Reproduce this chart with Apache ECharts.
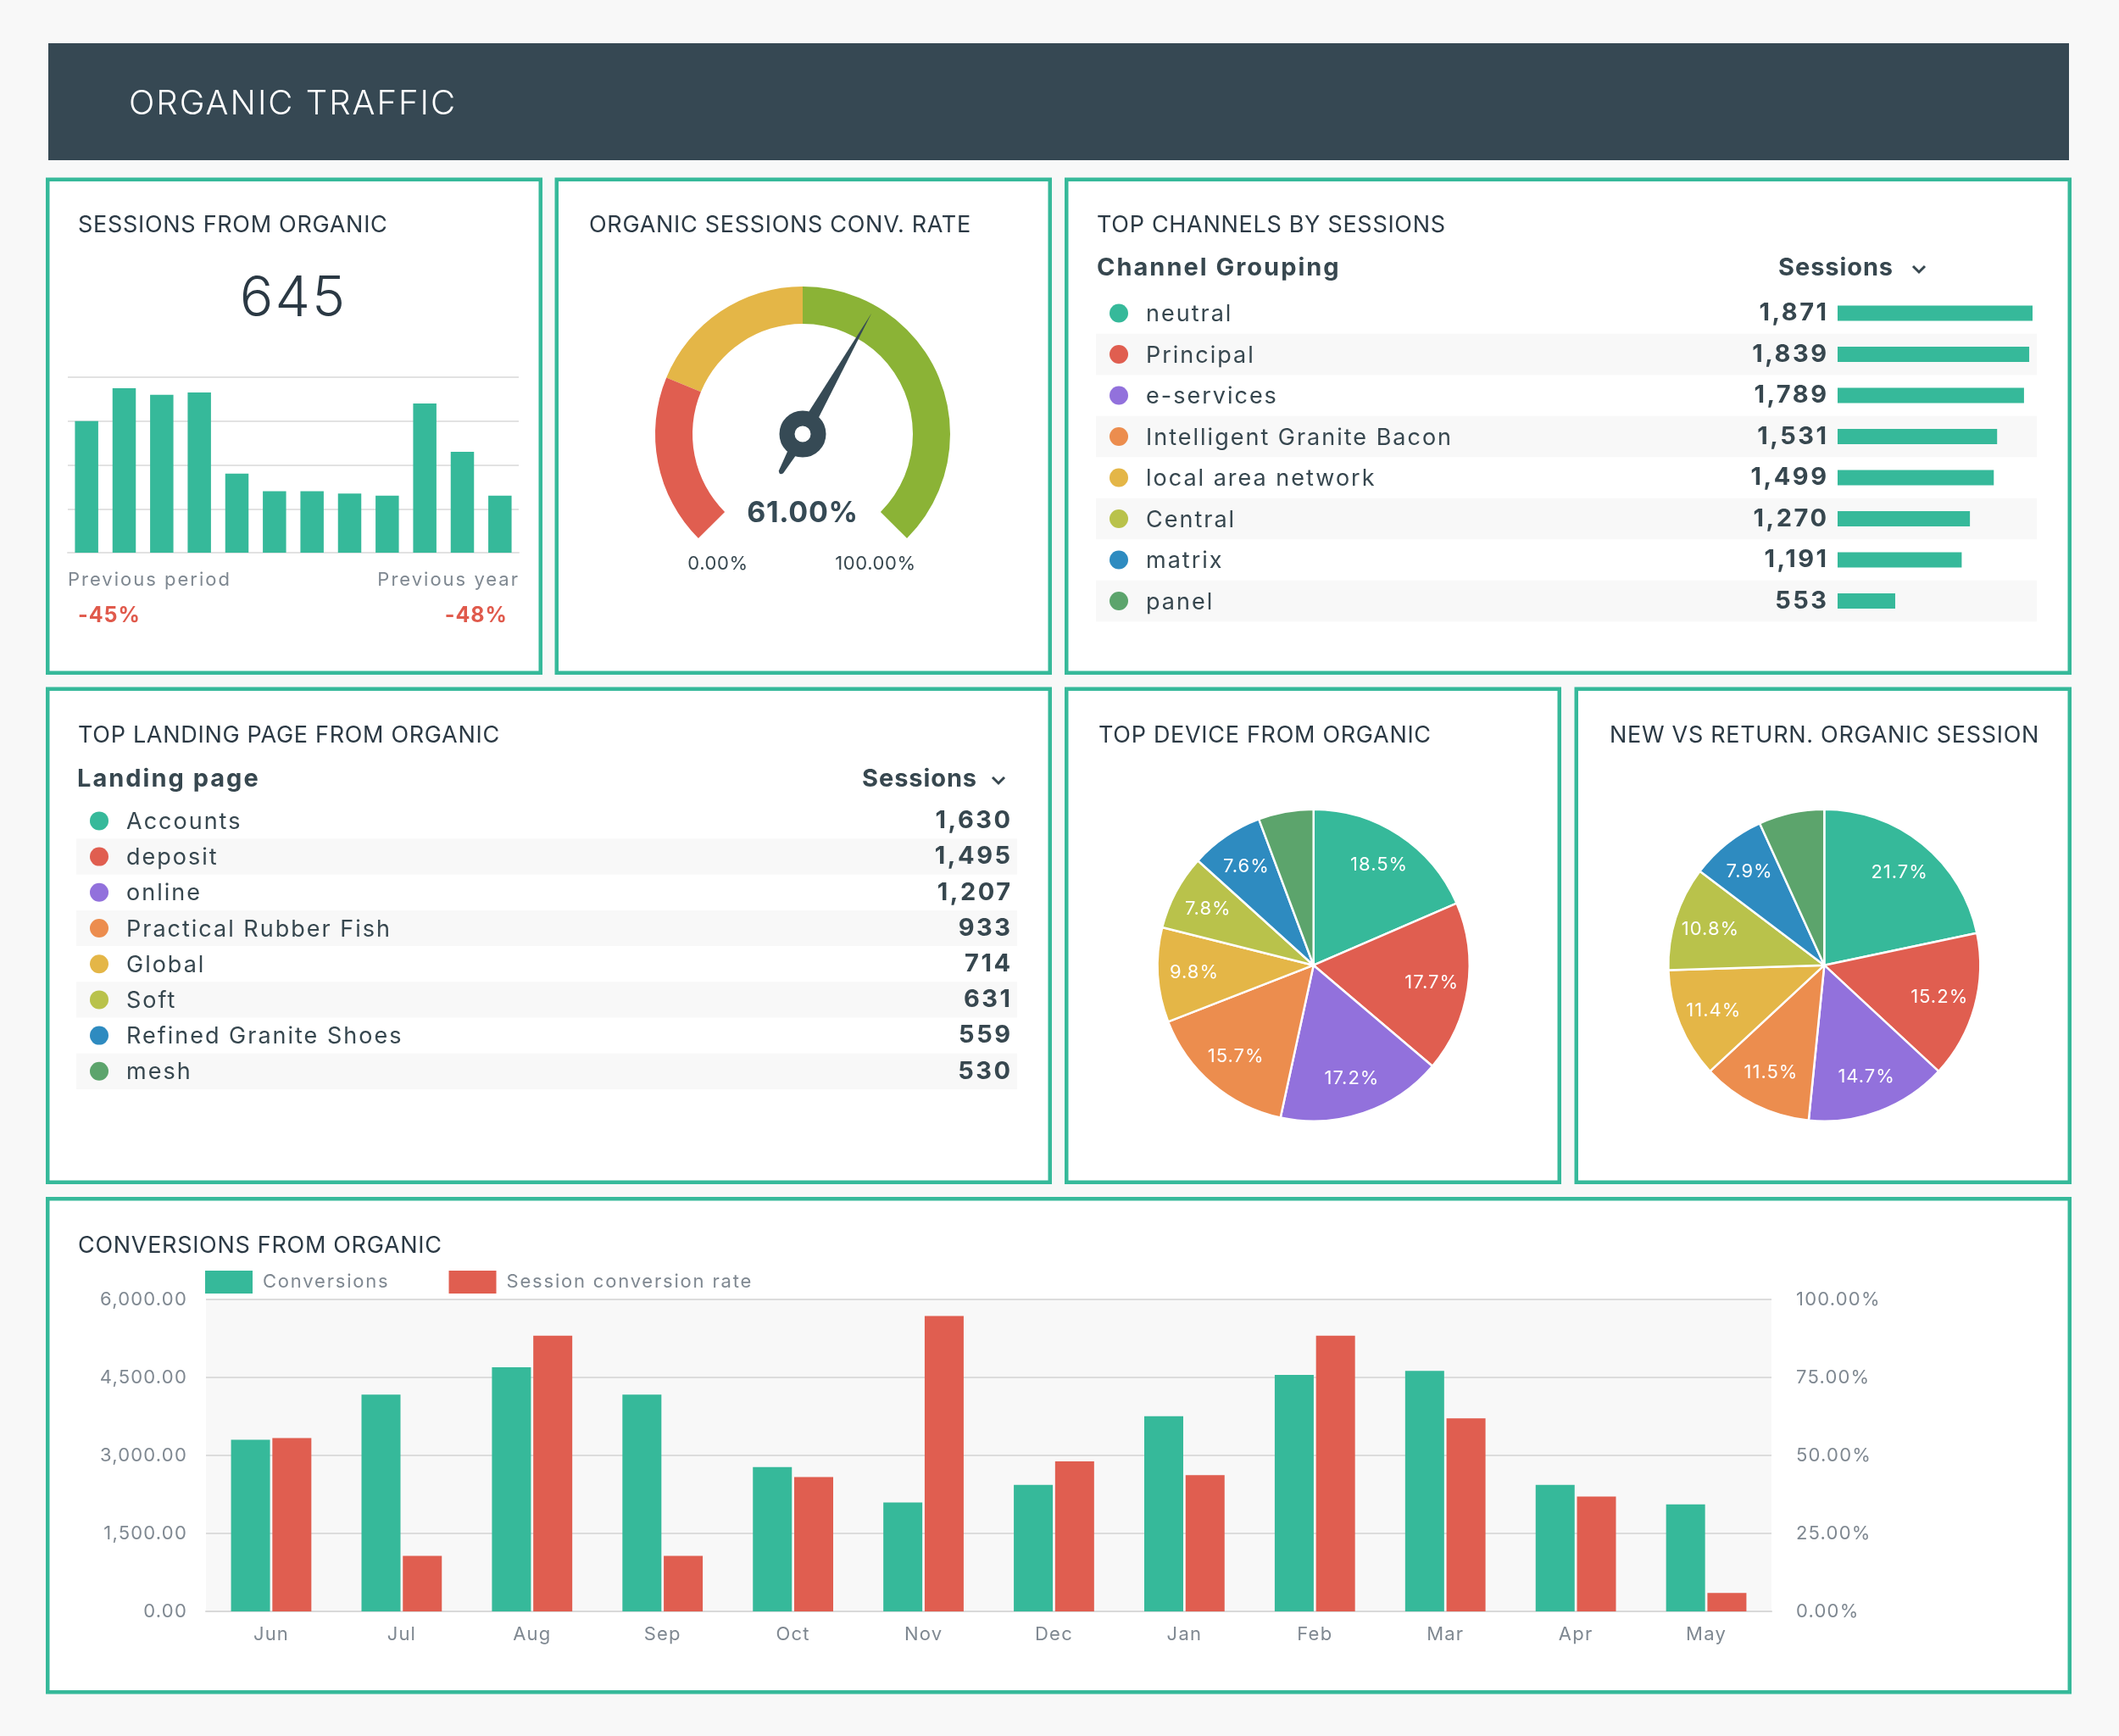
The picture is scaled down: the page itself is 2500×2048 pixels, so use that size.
<!DOCTYPE html>
<html>
<head>
<meta charset="utf-8">
<script src="https://cdn.jsdelivr.net/npm/echarts@6/dist/echarts.min.js"></script>
<style>
  html, body { margin: 0; padding: 0; background: #f8f8f8; }
  #main { width: 2500px; height: 2048px; }
</style>
</head>
<body>
<div id="main"></div>
<script>
// ---------- DATA ----------
const sessionsTotal = 645;
const prevPeriodChange = '-45%';
const prevYearChange = '-48%';
const sparkDays = ['1','2','3','4','5','6','7','8','9','10','11','12'];
const sparkSessions = [60, 75, 72, 73, 36, 28, 28, 27, 26, 68, 46, 26];

const convRateValue = 61;
const gaugeLabels = ['0.00%', '100.00%'];

const channelNames = ['neutral', 'Principal', 'e-services', 'Intelligent Granite Bacon', 'local area network', 'Central', 'matrix', 'panel'];
const channelSessions = [1871, 1839, 1789, 1531, 1499, 1270, 1191, 553];

const landingPages = ['Accounts', 'deposit', 'online', 'Practical Rubber Fish', 'Global', 'Soft', 'Refined Granite Shoes', 'mesh'];
const landingSessions = [1630, 1495, 1207, 933, 714, 631, 559, 530];

const deviceShares = [18.5, 17.7, 17.2, 15.7, 9.8, 7.8, 7.6, 5.7];
const newReturnShares = [21.7, 15.2, 14.7, 11.5, 11.4, 10.8, 7.9, 6.8];

const months = ['Jun', 'Jul', 'Aug', 'Sep', 'Oct', 'Nov', 'Dec', 'Jan', 'Feb', 'Mar', 'Apr', 'May'];
const conversions = [3303, 4168, 4697, 4168, 2774, 2097, 2432, 3755, 4548, 4626, 2432, 2058];
const convRate = [55.6, 17.8, 88.4, 17.8, 43.1, 94.7, 48.1, 43.7, 88.4, 61.9, 36.8, 5.9];

// ---------- letter spacing support (tracked text like the reference) ----------
(function () {
  const proto = CanvasRenderingContext2D.prototype;
  const desc = Object.getOwnPropertyDescriptor(proto, 'font');
  if (!desc || !('letterSpacing' in proto)) return;
  Object.defineProperty(proto, 'font', {
    configurable: true,
    get() { return desc.get.call(this); },
    set(v) {
      desc.set.call(this, v);
      const m = /\bls(\d+(?:p\d+)?)\b/.exec(String(v));
      try { this.letterSpacing = m ? m[1].replace('p', '.') + 'px' : '0px'; } catch (e) {}
    }
  });
})();
function F(ls) { return 'Inter, ' + (ls ? 'ls' + ls + ', ' : '') + '"Open Sans", sans-serif'; }

// ---------- STYLE ----------
const teal = '#36b99a', red = '#e05e50', purple = '#9271dc', orange = '#ec8d4e',
      yellow = '#e4b647', lime = '#b9c24b', blue = '#2e8bc0', green = '#5ca46c', gGreen = '#8bb336';
const palette = [teal, red, purple, orange, yellow, lime, blue, green];
const dark = '#2b3944', textDark = '#37474f', gray = '#7f8891', slate = '#364a55';

const chart = echarts.init(document.getElementById('main'), null, {renderer: 'canvas'});

function fmtNum(v) { return v.toLocaleString('en-US'); }
function fmt2(v) { return v.toLocaleString('en-US', {minimumFractionDigits: 2, maximumFractionDigits: 2}); }

const dotRich = {};
palette.forEach((c, i) => { dotRich['d' + i] = {width: 22, height: 22, borderRadius: 11, backgroundColor: c}; });
dotRich.n = {fontSize: 27, color: textDark, fontFamily: F('2'), padding: [3, 0, 0, 21]};

// panels
const panels = [
  [54, 209.5, 586, 586.5], [654.5, 209.5, 586.5, 586.5], [1256, 209.5, 1188, 586.5],
  [54, 810.5, 1187, 586.5], [1256, 810.5, 586, 586.5], [1857.5, 810.5, 586.5, 586.5],
  [54, 1412, 2390, 586.5]
];
const graphics = [];
graphics.push({type: 'rect', z: -10, shape: {x: 57, y: 51, width: 2384, height: 138}, style: {fill: '#364853'}});
graphics.push({type: 'text', z: 100, x: 152, y: 123, style: {text: 'ORGANIC TRAFFIC', fill: '#ffffff', fontSize: 40, fontWeight: 300, fontFamily: F('2'), verticalAlign: 'middle', align: 'left'}});
panels.forEach(p => {
  graphics.push({type: 'rect', z: -10, shape: {x: p[0] + 2.25, y: p[1] + 2.25, width: p[2] - 4.5, height: p[3] - 4.5},
    style: {fill: '#ffffff', stroke: teal, lineWidth: 4.5}});
});
const titles = [
  ['SESSIONS FROM ORGANIC', 92, 266], ['ORGANIC SESSIONS CONV. RATE', 695, 266], ['TOP CHANNELS BY SESSIONS', 1294, 266],
  ['TOP LANDING PAGE FROM ORGANIC', 92, 868], ['TOP DEVICE FROM ORGANIC', 1296, 868],
  ['NEW VS RETURN. ORGANIC SESSIONS', 1899, 868, 520], ['CONVERSIONS FROM ORGANIC', 92, 1470]
];
titles.forEach(t => {
  const st = {text: t[0], fill: dark, fontSize: 27, fontWeight: 'normal', fontFamily: F('0p7'), verticalAlign: 'middle', align: 'left'};
  if (t[3]) { st.width = t[3]; st.overflow = 'truncate'; st.ellipsis = ''; }
  graphics.push({type: 'text', z: 100, x: t[1], y: t[2], style: st});
});
function txt(text, x, y, size, color, weight, align, ls) {
  graphics.push({type: 'text', z: 100, x: x, y: y, style: {text: text, fill: color, fontSize: size, fontWeight: weight || 'normal', fontFamily: F(ls), verticalAlign: 'middle', align: align || 'left'}});
}
// panel 1 texts
txt(String(sessionsTotal), 346, 353, 66, dark, 300, 'center', '2');
txt('Previous period', 80, 684, 22, gray, 'normal', 'left', '2');
txt('Previous year', 613, 684, 22, gray, 'normal', 'right', '2');
txt(prevPeriodChange, 92, 726, 25, '#e05a4c', 'bold', 'left', '1');
txt(prevYearChange, 599, 726, 25, '#e05a4c', 'bold', 'right', '1');
// gauge labels
txt(gaugeLabels[0], 847, 665, 22, textDark, 'normal', 'center', '0p6');
txt(gaugeLabels[1], 1033, 665, 22, textDark, 'normal', 'center', '0p6');
// table headers
txt('Channel Grouping', 1294, 316, 29, textDark, 'bold', 'left', '2');
txt('Sessions', 2234, 316, 29, textDark, 'bold', 'right', '0p9');
txt('Landing page', 91, 919, 29, textDark, 'bold', 'left', '2');
txt('Sessions', 1153, 919, 29, textDark, 'bold', 'right', '0p9');
function chevron(cx, cy) {
  graphics.push({type: 'polyline', z: 100, shape: {points: [[cx - 7, cy - 4], [cx, cy + 3], [cx + 7, cy - 4]]},
    style: {stroke: textDark, lineWidth: 3, fill: null}});
}
chevron(2264, 318);
chevron(1178, 921);

function pieSeries(center, values) {
  const data = values.map((v, i) => ({value: v, itemStyle: {color: palette[i]}}));
  return [
    {type: 'pie', center: center, radius: [0, 184], startAngle: 90, clockwise: true, silent: true,
     data: data, label: {show: false}, labelLine: {show: false},
     itemStyle: {borderColor: '#ffffff', borderWidth: 2.5}},
    {type: 'pie', center: center, radius: [92, 184], startAngle: 90, clockwise: true, silent: true,
     minShowLabelAngle: 26,
     data: values.map(v => ({value: v})), itemStyle: {color: 'rgba(0,0,0,0)'}, labelLine: {show: false},
     label: {show: true, position: 'inside', color: '#ffffff', fontSize: 22, fontFamily: F('1'),
             formatter: p => p.percent.toFixed(1) + '%'}}
  ];
}

const option = {
  backgroundColor: '#f8f8f8',
  animation: false,
  textStyle: {fontFamily: F('')},
  graphic: {elements: graphics},
  legend: {
    left: 242, top: 1499, padding: 0, itemWidth: 56, itemHeight: 27, itemGap: 70, icon: 'rect',
    data: ['Conversions', 'Session conversion rate'],
    textStyle: {fontSize: 22, color: gray, fontFamily: F('1p8'), padding: [3, 0, 0, 7]}
  },
  grid: [
    {left: 80, width: 532, top: 445, height: 207},
    {left: 1293, width: 1110, top: 345.3, height: 388},
    {left: 2168, width: 230, top: 345.3, height: 388},
    {left: 90, width: 1110, top: 947.3, height: 337.6},
    {left: 243, width: 1847, top: 1533, height: 368, show: true, backgroundColor: '#f8f8f8', borderWidth: 0}
  ],
  xAxis: [
    {gridIndex: 0, type: 'category', data: sparkDays, axisTick: {show: false}, axisLabel: {show: false},
     axisLine: {lineStyle: {color: '#e2e2e2', width: 2}}},
    {gridIndex: 1, type: 'value', show: false, min: 0, max: 1},
    {gridIndex: 2, type: 'value', show: false, min: 0, max: Math.max(...channelSessions)},
    {gridIndex: 3, type: 'value', show: false, min: 0, max: 1},
    {gridIndex: 4, type: 'category', data: months, axisTick: {show: false},
     axisLine: {lineStyle: {color: '#d9d9d9', width: 2}},
     axisLabel: {color: gray, fontSize: 22, margin: 16, fontFamily: F('1p2')}}
  ],
  yAxis: [
    {gridIndex: 0, type: 'value', min: 0, max: 80, interval: 20, axisLabel: {show: false},
     axisLine: {show: false}, axisTick: {show: false}, splitLine: {lineStyle: {color: '#e2e2e2', width: 2}}},
    {gridIndex: 1, type: 'category', inverse: true, data: channelNames, axisLine: {show: false}, axisTick: {show: false},
     splitArea: {show: true, interval: 0, areaStyle: {color: ['rgba(255,255,255,0)', '#f8f8f8']}},
     axisLabel: {interval: 0, align: 'left', margin: -16, formatter: (v, i) => '{d' + i + '|}{n|' + v + '}', rich: dotRich}},
    {gridIndex: 2, type: 'category', inverse: true, data: channelNames, show: false},
    {gridIndex: 3, type: 'category', inverse: true, data: landingPages, axisLine: {show: false}, axisTick: {show: false},
     splitArea: {show: true, interval: 0, areaStyle: {color: ['rgba(255,255,255,0)', '#f8f8f8']}},
     axisLabel: {interval: 0, align: 'left', margin: -16, formatter: (v, i) => '{d' + i + '|}{n|' + v + '}', rich: dotRich}},
    {gridIndex: 3, type: 'category', inverse: true, position: 'right', data: landingSessions.map(fmtNum),
     axisLine: {show: false}, axisTick: {show: false},
     axisLabel: {interval: 0, align: 'right', margin: -5.5, fontSize: 29, fontWeight: 'bold', color: textDark, fontFamily: F('2p5'), padding: [3, 0, 0, 0]}},
    {gridIndex: 4, type: 'value', min: 0, max: 6000, interval: 1500, position: 'left',
     axisLine: {show: false}, axisTick: {show: false},
     splitLine: {lineStyle: {color: '#dcdcdc', width: 2}},
     axisLabel: {color: gray, fontSize: 22, margin: 22, formatter: v => fmt2(v), fontFamily: F('1p2'), padding: [6, 0, 0, 0]}},
    {gridIndex: 4, type: 'value', min: 0, max: 100, interval: 25, position: 'right',
     axisLine: {show: false}, axisTick: {show: false}, splitLine: {show: false},
     axisLabel: {color: gray, fontSize: 22, margin: 29, formatter: v => v.toFixed(2) + '%', fontFamily: F('1p2'), padding: [6, 0, 0, 0]}}
  ],
  series: [
    {type: 'bar', xAxisIndex: 0, yAxisIndex: 0, data: sparkSessions, barCategoryGap: '38%',
     itemStyle: {color: teal}, silent: true},
    {type: 'gauge', center: [947, 512], radius: 174, startAngle: 225, endAngle: -45, min: 0, max: 100,
     axisLine: {lineStyle: {width: 44, color: [[0.25, red], [0.5, yellow], [1, gGreen]]}},
     splitLine: {show: false}, axisTick: {show: false}, axisLabel: {show: false}, progress: {show: false},
     pointer: {show: true, icon: 'path://M8 0 L16 164 L11 216 Q8 221 5 216 L0 164 Z', length: 218, width: 16,
               offsetCenter: [0, 54], itemStyle: {color: slate}},
     anchor: {show: true, showAbove: true, size: 37, icon: 'circle',
              itemStyle: {color: '#ffffff', borderColor: slate, borderWidth: 18}},
     title: {show: false},
     detail: {show: true, offsetCenter: [0, 94], fontSize: 34, fontWeight: 'bold', color: slate, fontFamily: F('0p7'),
              formatter: v => v.toFixed(2) + '%'},
     data: [{value: convRateValue}]},
    {type: 'bar', xAxisIndex: 2, yAxisIndex: 2, data: channelSessions, barWidth: 18, itemStyle: {color: teal}, silent: true,
     label: {show: true, position: 'left', distance: 10.5, formatter: p => fmtNum(p.value), padding: [3, 0, 0, 0],
             fontSize: 29, fontWeight: 'bold', color: textDark, fontFamily: F('2p5')}},
    ...pieSeries([1549.7, 1138.7], deviceShares),
    ...pieSeries([2152.3, 1138.7], newReturnShares),
    {name: 'Conversions', type: 'bar', xAxisIndex: 4, yAxisIndex: 5, data: conversions, barWidth: 46, barGap: '6%',
     itemStyle: {color: teal}},
    {name: 'Session conversion rate', type: 'bar', xAxisIndex: 4, yAxisIndex: 6, data: convRate, barWidth: 46, barGap: '6%',
     itemStyle: {color: red}}
  ]
};
chart.setOption(option);
</script>
</body>
</html>
